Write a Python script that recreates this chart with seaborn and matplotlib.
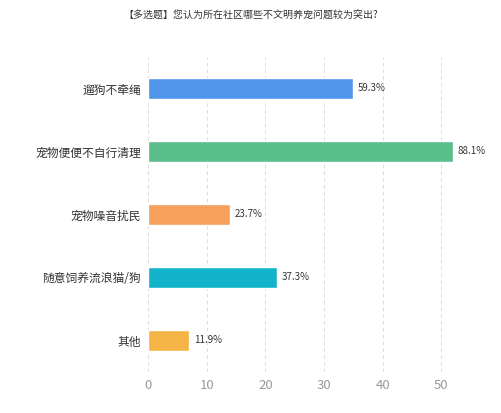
import matplotlib
matplotlib.use("Agg")
import matplotlib.pyplot as plt
import seaborn as sns
import pandas as pd

title = "【多选题】您认为所在社区哪些不文明养宠问题较为突出?"
categories = ["遛狗不牵绳", "宠物便便不自行清理", "宠物噪音扰民", "随意饲养流浪猫/狗", "其他"]
counts = [35, 52, 14, 22, 7]
percents = ["59.3%", "88.1%", "23.7%", "37.3%", "11.9%"]
colors = ["#4E95EB", "#59BE8A", "#F5A05C", "#13B4CB", "#F5B446"]
x_ticks = [0, 10, 20, 30, 40, 50]

sns.set_theme(style="white")
plt.rcParams['font.family'] = ['Noto Sans CJK SC', 'DejaVu Sans']

df = pd.DataFrame({"cat": categories, "count": counts})

fig = plt.figure(figsize=(5.02, 4.13), dpi=100)
ax = fig.add_axes([0.2948, 0.0993, 0.6076, 0.7627])
sns.barplot(data=df, y="cat", x="count", hue="cat", palette=colors,
            legend=False, width=0.32, ax=ax, saturation=1, orient="h")

ax.set_xlim(0, 52)
ax.set_xticks(x_ticks)
ax.set_xticklabels([str(t) for t in x_ticks], color="#999999", fontsize=9.5)
for t in x_ticks + [52]:
    ax.axvline(t, color="#dddddd", linestyle=(0, (4, 3)), linewidth=0.7, zorder=0)
ax.tick_params(axis="y", labelsize=8.5, labelcolor="#333333", length=0, pad=5)
ax.tick_params(axis="x", length=0, pad=5)
ax.set_xlabel("")
ax.set_ylabel("")
for s in ax.spines.values():
    s.set_visible(False)

for i, (c, p) in enumerate(zip(counts, percents)):
    ax.text(c + 0.8, i, p, va="center", ha="left", fontsize=7, color="#333333")

fig.text(0.5, 0.962, title, ha="center", va="center", fontsize=7.2, color="#333333")

fig.savefig("out.png", dpi=100)
